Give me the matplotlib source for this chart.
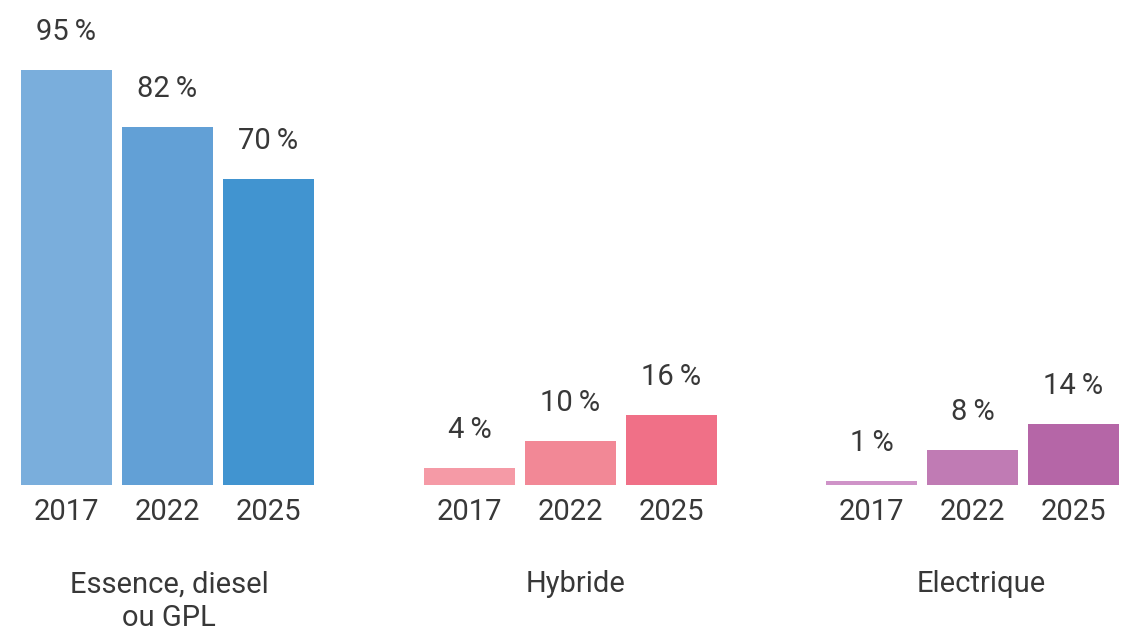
import matplotlib
matplotlib.use("Agg")
import matplotlib.pyplot as plt

# ---------------------------------------------------------------------------
# Data
# ---------------------------------------------------------------------------
categories = ["Essence, diesel\nou GPL", "Hybride", "Electrique"]
years = ["2017", "2022", "2025"]
essence = [95, 82, 70]
hybride = [4, 10, 16]
electrique = [1, 8, 14]
series = [essence, hybride, electrique]

colors = [
    ["#7aaedc", "#62a0d6", "#4194d0"],
    ["#f59aa6", "#f28896", "#f07087"],
    ["#cf93c8", "#c07bb4", "#b566a7"],
]

TEXT = "#383838"
plt.rcParams["font.family"] = ["Roboto", "DejaVu Sans"]

# layout in pixels (x) and percent (y)
W, H = 1130, 633
PX_PER_PCT = 4.37
BASE_PX = 485
GROUP_X0 = [66.5, 469.5, 871.5]
STEP = 101
BAR_W = 91
CAT_DX = [1.5, 5, 9]
FS = 21

fig = plt.figure(figsize=(W / 100, H / 100), dpi=100)
ax = fig.add_axes([0, 0, 1, 1])
ax.set_xlim(0, W)
ax.set_ylim(-(H - BASE_PX) / PX_PER_PCT, BASE_PX / PX_PER_PCT)
ax.axis("off")

for g, (vals, cols) in enumerate(zip(series, colors)):
    xs = [GROUP_X0[g] + i * STEP for i in range(len(vals))]
    ax.bar(xs, vals, width=BAR_W, color=cols, linewidth=0)
    for x, v, yr in zip(xs, vals, years):
        ax.text(x, v + 38 / PX_PER_PCT, f"{v}\u2009%", ha="center", va="center",
                fontsize=FS, color=TEXT)
        ax.text(x, -27 / PX_PER_PCT, yr, ha="center", va="center",
                fontsize=FS, color=TEXT)
    n_lines = categories[g].count("\n") + 1
    y_px = 99 + (n_lines - 1) * 17.5
    ax.text(xs[1] + CAT_DX[g], -y_px / PX_PER_PCT, categories[g], ha="center",
            va="center", fontsize=FS, color=TEXT, linespacing=1.26)

fig.savefig("out.png", dpi=100)
